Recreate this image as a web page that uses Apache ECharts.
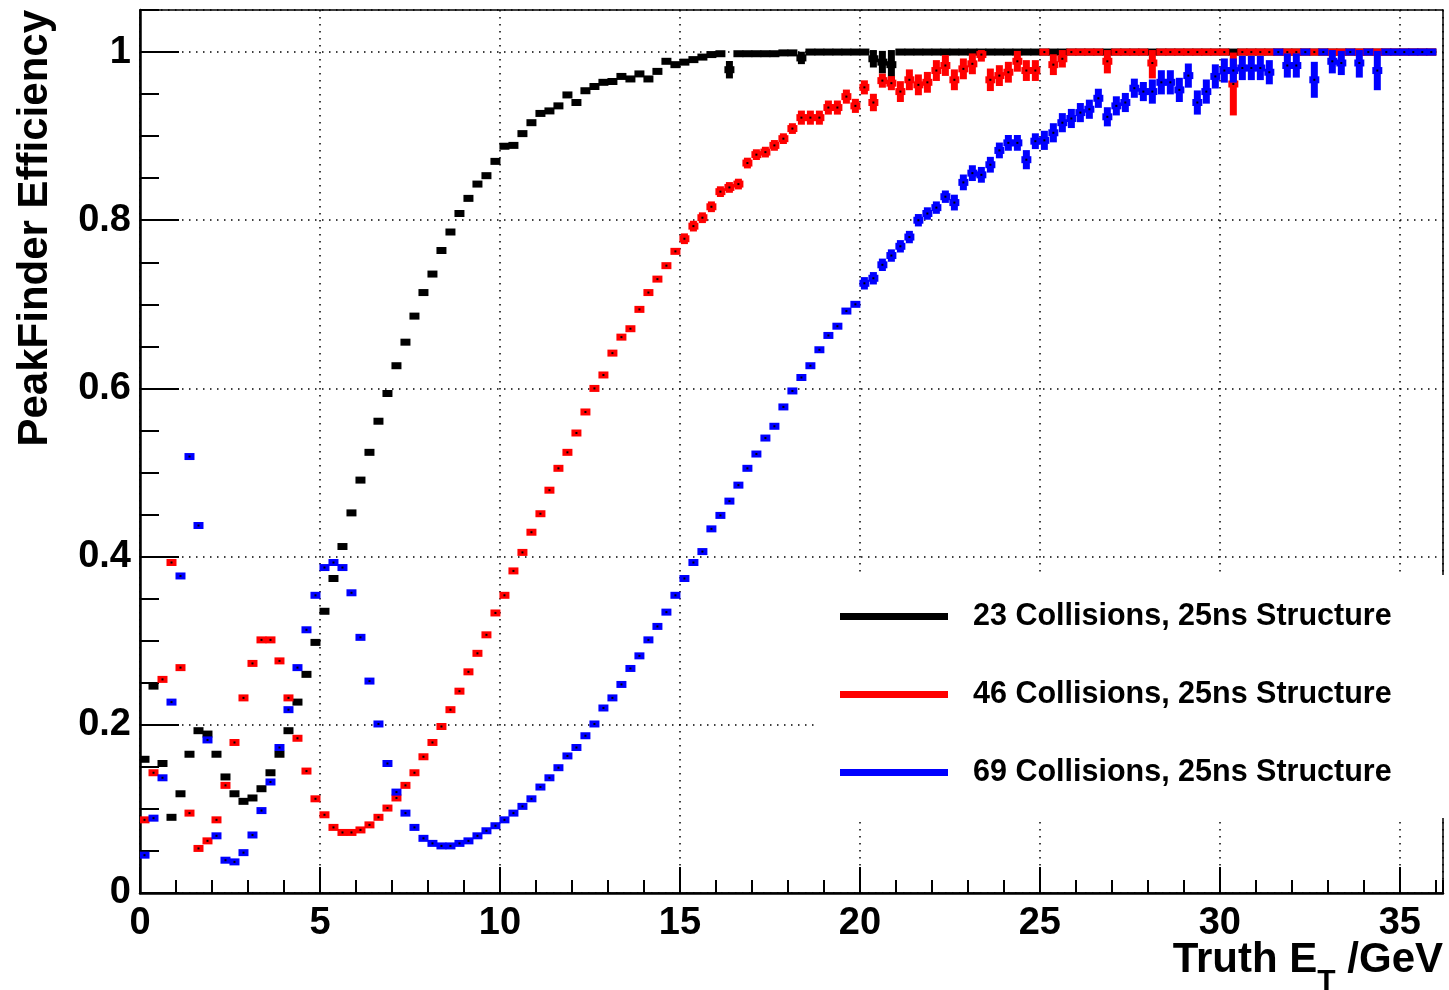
<!DOCTYPE html>
<html>
<head>
<meta charset="utf-8">
<title>PeakFinder Efficiency</title>
<script src="https://cdn.jsdelivr.net/npm/echarts@6.0.0/dist/echarts.min.js"></script>
<style>
html, body { margin: 0; padding: 0; background: #fff; }
#main { width: 1449px; height: 990px; }
</style>
</head>
<body>
<div id="main"></div>
<script>
// histogram bins of 0.25 GeV, starting at 0
var BIN_WIDTH = 0.25;

var seriesNames = [
  "23 Collisions, 25ns Structure",
  "46 Collisions, 25ns Structure",
  "69 Collisions, 25ns Structure"
];
var seriesColors = ["#000000", "#ff0000", "#0000ff"];

// efficiency per bin
var eff23 = [
  0.159, 0.246, 0.154, 0.090, 0.118, 0.165, 0.193, 0.189, 0.165, 0.138,
  0.118, 0.109, 0.113, 0.124, 0.143, 0.165, 0.193, 0.227, 0.260, 0.298,
  0.335, 0.374, 0.412, 0.452, 0.491, 0.524, 0.561, 0.594, 0.627, 0.655,
  0.686, 0.714, 0.736, 0.764, 0.786, 0.808, 0.826, 0.843, 0.853, 0.870,
  0.888, 0.889, 0.903, 0.916, 0.927, 0.930, 0.936, 0.949, 0.940, 0.954,
  0.959, 0.964, 0.965, 0.971, 0.968, 0.974, 0.968, 0.977, 0.989, 0.985,
  0.988, 0.991, 0.994, 0.997, 0.998, 0.979, 0.998, 0.998, 0.998, 0.998,
  0.998, 0.999, 0.999, 0.993, 1, 1, 1, 1, 1, 1,
  1, 0.992, 0.988, 0.985, 1, 1, 1, 1, 1, 1,
  1, 1, 1, 1, 1, 1, 1, 1, 1, 1,
  1, 1, 1, 1, 1, 1, 1, 1, 1, 1,
  1, 1, 1, 1, 1, 1, 1, 1, 1, 1,
  1, 1, 1, 1, 1, 1, 1, 1, 1, 1,
  1, 1, 1, 1, 1, 1, 1, 1, 1, 1,
  1, 1, 1, 1
];
var err23 = [
  0, 0, 0, 0, 0, 0, 0, 0, 0, 0,
  0, 0, 0, 0, 0, 0, 0, 0, 0, 0,
  0, 0, 0, 0, 0, 0, 0, 0, 0, 0,
  0, 0, 0, 0, 0, 0, 0, 0, 0, 0,
  0, 0, 0, 0, 0, 0, 0, 0, 0, 0,
  0, 0, 0, 0, 0, 0, 0, 0, 0, 0,
  0, 0, 0, 0, 0, 0.008, 0, 0, 0, 0,
  0, 0, 0, 0.005, 0, 0, 0, 0, 0, 0,
  0, 0.008, 0.011, 0.022, 0, 0, 0, 0, 0, 0,
  0, 0, 0, 0, 0, 0, 0, 0, 0, 0,
  0, 0, 0, 0, 0, 0, 0, 0, 0, 0,
  0, 0, 0, 0, 0, 0, 0, 0, 0, 0,
  0, 0, 0, 0, 0, 0, 0, 0, 0, 0,
  0, 0, 0, 0, 0, 0, 0, 0, 0, 0,
  0, 0, 0, 0
];

var eff46 = [
  0.087, 0.143, 0.254, 0.393, 0.268, 0.095, 0.053, 0.062, 0.087, 0.128,
  0.179, 0.232, 0.273, 0.301, 0.301, 0.276, 0.232, 0.184, 0.145, 0.112,
  0.093, 0.078, 0.072, 0.072, 0.075, 0.081, 0.090, 0.101, 0.113, 0.128,
  0.143, 0.162, 0.179, 0.198, 0.218, 0.240, 0.263, 0.285, 0.307, 0.333,
  0.354, 0.383, 0.405, 0.429, 0.451, 0.479, 0.505, 0.524, 0.547, 0.572,
  0.600, 0.616, 0.642, 0.661, 0.671, 0.694, 0.714, 0.730, 0.746, 0.763,
  0.778, 0.793, 0.803, 0.816, 0.834, 0.839, 0.843, 0.868, 0.878, 0.881,
  0.889, 0.897, 0.909, 0.922, 0.922, 0.922, 0.934, 0.934, 0.947, 0.936,
  0.958, 0.940, 0.966, 0.963, 0.953, 0.967, 0.961, 0.964, 0.978, 0.984,
  0.967, 0.980, 0.986, 0.997, 0.967, 0.972, 0.976, 0.989, 0.978, 0.978,
  1, 0.985, 0.992, 1, 1, 1, 1, 0.989, 1, 1,
  1, 1, 0.987, 1, 1, 1, 1, 1, 1, 1,
  1, 0.962, 1, 1, 1, 1, 1, 1, 1, 1,
  1, 1, 1, 1, 1, 1, 1, 1, 1, 1,
  1, 1, 1, 1
];
var err46 = [
  0, 0, 0, 0, 0, 0, 0, 0, 0, 0,
  0, 0, 0, 0, 0, 0, 0, 0, 0, 0,
  0, 0, 0, 0, 0, 0, 0, 0, 0, 0,
  0, 0, 0, 0, 0, 0, 0, 0, 0, 0,
  0, 0, 0, 0, 0, 0, 0, 0, 0, 0,
  0, 0, 0, 0, 0, 0, 0, 0, 0, 0,
  0.004, 0.004, 0.004, 0.004, 0.004, 0.004, 0.004, 0.004, 0.004, 0.004,
  0.004, 0.004, 0.004, 0.006, 0.006, 0.006, 0.006, 0.006, 0.006, 0.006,
  0.006, 0.008, 0.006, 0.006, 0.010, 0.010, 0.010, 0.010, 0.010, 0.010,
  0.010, 0.010, 0.010, 0.006, 0.011, 0.010, 0.010, 0.010, 0.010, 0.010,
  0, 0.010, 0.008, 0, 0, 0, 0, 0.012, 0, 0,
  0, 0, 0.016, 0, 0, 0, 0, 0, 0, 0,
  0, 0.035, 0, 0, 0, 0, 0, 0, 0, 0,
  0, 0, 0, 0, 0, 0, 0, 0, 0, 0,
  0, 0, 0, 0
];

var eff69 = [
  0.045, 0.089, 0.137, 0.227, 0.377, 0.519, 0.437, 0.182, 0.068, 0.039,
  0.037, 0.048, 0.069, 0.098, 0.132, 0.173, 0.218, 0.268, 0.313, 0.354,
  0.387, 0.393, 0.387, 0.357, 0.304, 0.252, 0.201, 0.154, 0.120, 0.095,
  0.078, 0.065, 0.059, 0.056, 0.056, 0.059, 0.062, 0.068, 0.074, 0.080,
  0.087, 0.095, 0.103, 0.112, 0.126, 0.137, 0.149, 0.163, 0.173, 0.187,
  0.201, 0.220, 0.232, 0.248, 0.267, 0.282, 0.301, 0.317, 0.334, 0.354,
  0.374, 0.393, 0.406, 0.433, 0.449, 0.466, 0.485, 0.505, 0.522, 0.541,
  0.555, 0.578, 0.597, 0.613, 0.627, 0.646, 0.663, 0.674, 0.692, 0.700,
  0.725, 0.731, 0.747, 0.758, 0.769, 0.780, 0.800, 0.808, 0.815, 0.828,
  0.821, 0.845, 0.856, 0.854, 0.866, 0.883, 0.892, 0.892, 0.872, 0.894,
  0.895, 0.904, 0.916, 0.921, 0.928, 0.932, 0.945, 0.923, 0.936, 0.940,
  0.957, 0.953, 0.953, 0.964, 0.964, 0.955, 0.972, 0.940, 0.953, 0.971,
  0.978, 0.978, 0.981, 0.981, 0.981, 0.976, 1, 0.984, 0.984, 1,
  0.967, 1, 0.989, 0.987, 1, 0.987, 1, 0.978, 1, 1,
  1, 1, 1, 1
];
var err69 = [
  0, 0, 0, 0, 0, 0, 0, 0, 0, 0,
  0, 0, 0, 0, 0, 0, 0, 0, 0, 0,
  0, 0, 0, 0, 0, 0, 0, 0, 0, 0,
  0, 0, 0, 0, 0, 0, 0, 0, 0, 0,
  0, 0, 0, 0, 0, 0, 0, 0, 0, 0,
  0, 0, 0, 0, 0, 0, 0, 0, 0, 0,
  0, 0, 0, 0, 0, 0, 0, 0, 0, 0,
  0, 0, 0, 0, 0, 0, 0, 0, 0, 0,
  0.005, 0.005, 0.005, 0.005, 0.005, 0.005, 0.005, 0.005, 0.005, 0.005,
  0.007, 0.007, 0.007, 0.007, 0.007, 0.007, 0.007, 0.007, 0.009, 0.007,
  0.009, 0.009, 0.009, 0.009, 0.009, 0.009, 0.009, 0.009, 0.009, 0.009,
  0.009, 0.009, 0.012, 0.012, 0.012, 0.012, 0.012, 0.012, 0.012, 0.012,
  0.012, 0.012, 0.012, 0.012, 0.012, 0.012, 0, 0.012, 0.012, 0,
  0.019, 0, 0.012, 0.012, 0, 0.015, 0, 0.021, 0, 0,
  0, 0, 0, 0
];

var FONT = "Liberation Sans, Arial, Helvetica, sans-serif";

function binData(values, errors) {
  return values.map(function (v, i) {
    return [BIN_WIDTH * (i + 0.5), v, errors[i]];
  });
}

// ROOT style marker: thick horizontal bar over the bin, vertical error bar, small dot
function makeRender(withDot) {
  return function (params, api) {
    var x = api.value(0);
    var y = api.value(1);
    var e = api.value(2);
    var c = api.coord([x, y]);
    var w = api.size([BIN_WIDTH, 0])[0] + 1;
    var color = api.visual("color");
    var kids = [{
      type: "rect",
      shape: { x: c[0] - w / 2, y: c[1] - 3.5, width: w, height: 7 },
      style: { fill: color }
    }];
    if (e > 0) {
      var top = api.coord([x, Math.min(y + e, 1)])[1];
      var bot = api.coord([x, y - e])[1];
      kids.push({
        type: "rect",
        shape: { x: c[0] - 3.5, y: top - 2, width: 7, height: bot - top + 4 },
        style: { fill: color }
      });
    }
    if (withDot) {
      kids.push({
        type: "rect",
        shape: { x: c[0] - 1, y: c[1] - 1, width: 2, height: 2 },
        style: { fill: "#000" }
      });
    }
    return { type: "group", children: kids };
  };
}

var myChart = echarts.init(document.getElementById("main"), null, { renderer: "canvas" });

var gridDots = { color: "#000", width: 1.5, type: [1.5, 5.5] };

var option = {
  animation: false,
  backgroundColor: "#fff",
  grid: {
    left: 140, right: 6, top: 10, bottom: 97,
    show: true, borderColor: "#000", borderWidth: 1.5,
    outerBoundsMode: "none"
  },
  legend: {
    data: seriesNames,
    orient: "vertical",
    left: 818,
    top: 575,
    padding: [26, 53, 30, 22],
    backgroundColor: "#fff",
    icon: "rect",
    itemWidth: 108,
    itemHeight: 7,
    itemGap: 47,
    selectedMode: false,
    textStyle: {
      fontFamily: FONT, fontWeight: "bold", fontSize: 30.5, color: "#000",
      lineHeight: 30, padding: [0, 0, 0, 20]
    }
  },
  xAxis: [
    {
      type: "value", min: 0, max: 36.2, interval: 5,
      name: "{m|Truth E}{s|T}{m| /GeV}",
      nameLocation: "end", nameGap: 0, nameMoveOverlap: false,
      nameTextStyle: {
        align: "right", verticalAlign: "top", padding: [46, 0, 0, 0],
        rich: {
          m: { fontFamily: FONT, fontWeight: "bold", fontSize: 42, lineHeight: 42, color: "#000", verticalAlign: "top" },
          s: { fontFamily: FONT, fontWeight: "bold", fontSize: 30, lineHeight: 30, color: "#000", verticalAlign: "top", padding: [28, 0, 0, 0] }
        }
      },
      axisLine: { show: true, onZero: false, lineStyle: { color: "#000", width: 2.5 } },
      axisTick: { inside: true, length: 26, lineStyle: { color: "#000", width: 2 } },
      splitLine: { show: true, lineStyle: gridDots },
      axisLabel: {
        showMaxLabel: false, margin: 12,
        fontFamily: FONT, fontWeight: "bold", fontSize: 38, color: "#000",
        formatter: function (v) { return v > 36 ? "" : String(v); }
      }
    },
    {
      type: "value", min: 0, max: 36.2, interval: 1, position: "bottom",
      axisLine: { show: false },
      axisLabel: { show: false },
      splitLine: { show: false },
      axisTick: { inside: true, length: 13, lineStyle: { color: "#000", width: 2 } }
    }
  ],
  yAxis: [
    {
      type: "value", min: 0, max: 1.05, interval: 0.2,
      name: "PeakFinder Efficiency",
      nameLocation: "end", nameGap: 0, nameRotate: 90, nameMoveOverlap: false,
      nameTextStyle: {
        fontFamily: FONT, fontWeight: "bold", fontSize: 42, lineHeight: 42, color: "#000",
        align: "right", verticalAlign: "bottom", padding: [0, 0, 84, 0]
      },
      axisLine: { show: true, onZero: false, lineStyle: { color: "#000", width: 2.5 } },
      axisTick: { inside: true, length: 39, lineStyle: { color: "#000", width: 2 } },
      splitLine: { show: true, lineStyle: gridDots },
      axisLabel: {
        showMaxLabel: false, margin: 9,
        fontFamily: FONT, fontWeight: "bold", fontSize: 38, color: "#000",
        formatter: function (v) { return v > 1.001 ? "" : String(+v.toFixed(1)); }
      }
    },
    {
      type: "value", min: 0, max: 1.05, interval: 0.05, position: "left",
      axisLine: { show: false },
      axisLabel: { show: false },
      splitLine: { show: false },
      axisTick: { inside: true, length: 19, lineStyle: { color: "#000", width: 2 } }
    }
  ],
  series: [
    {
      name: seriesNames[0], type: "custom", renderItem: makeRender(false),
      data: binData(eff23, err23), encode: { x: 0, y: 1 },
      itemStyle: { color: seriesColors[0] }, clip: true, z: 3
    },
    {
      name: seriesNames[1], type: "custom", renderItem: makeRender(true),
      data: binData(eff46, err46), encode: { x: 0, y: 1 },
      itemStyle: { color: seriesColors[1] }, clip: true, z: 4
    },
    {
      name: seriesNames[2], type: "custom", renderItem: makeRender(true),
      data: binData(eff69, err69), encode: { x: 0, y: 1 },
      itemStyle: { color: seriesColors[2] }, clip: true, z: 5
    }
  ]
};

myChart.setOption(option);
</script>
</body>
</html>
